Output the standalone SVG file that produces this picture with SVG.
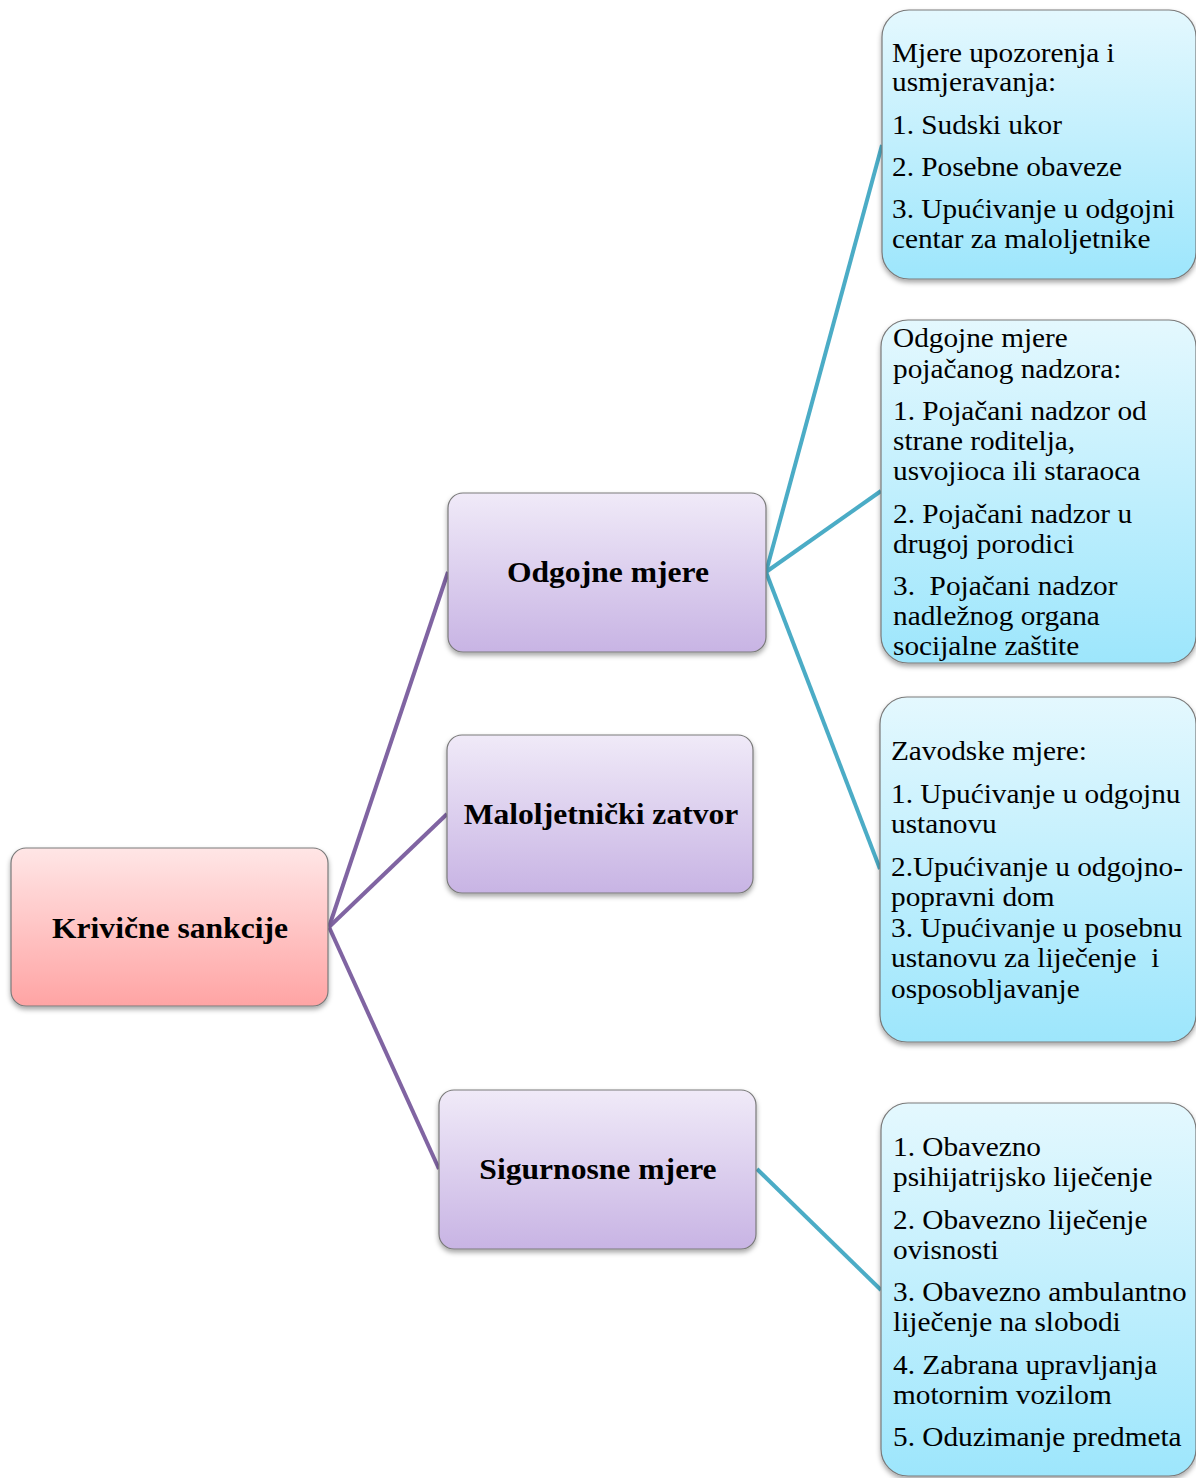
<svg xmlns="http://www.w3.org/2000/svg" width="1196" height="1478" viewBox="0 0 1196 1478">
<defs>
<linearGradient id="gPink" x1="0" y1="0" x2="0" y2="1"><stop offset="0" stop-color="#FFE6E6"/><stop offset="1" stop-color="#FFA4A4"/></linearGradient>
<linearGradient id="gPurple" x1="0" y1="0" x2="0" y2="1"><stop offset="0" stop-color="#F0EAF8"/><stop offset="1" stop-color="#C8B4E4"/></linearGradient>
<linearGradient id="gBlue" x1="0" y1="0" x2="0" y2="1"><stop offset="0" stop-color="#E4F8FE"/><stop offset="1" stop-color="#9DE6FC"/></linearGradient>
<filter id="sh" x="-10%" y="-10%" width="120%" height="125%"><feDropShadow dx="0" dy="3" stdDeviation="2.5" flood-color="#000" flood-opacity="0.35"/></filter>
<style>
.box{stroke:#7a7a7a;stroke-width:1.2;filter:url(#sh)}
.node{font-family:"Liberation Serif","Times New Roman",serif;font-weight:bold;font-size:29px;fill:#000;text-anchor:middle}
.txt{font-family:"Liberation Serif","Times New Roman",serif;font-size:27px;fill:#000}
.pre{white-space:pre}
.cp{fill:none;stroke:#8064A2;stroke-width:4}
.cb{fill:none;stroke:#4BACC6;stroke-width:4}
</style>
</defs>
<rect width="1196" height="1478" fill="#fff"/>
<g id="connectors">
<path class="cp" d="M329 927 L448 572"/>
<path class="cp" d="M329 927 L447 814"/>
<path class="cp" d="M329 927 L439 1169"/>
<path class="cb" d="M766 572 L882 145"/>
<path class="cb" d="M766 572 L881 491"/>
<path class="cb" d="M766 572 L880 869"/>
<path class="cb" d="M757 1169 L881 1290"/>
</g>
<g id="n-root">
<rect class="box" x="11" y="848" width="317" height="158" rx="15" fill="url(#gPink)"/>
<text class="node" x="170" y="938" transform="translate(170,0) scale(1.09,1) translate(-170,0)">Krivične sankcije</text>
</g>
<g id="n-odgojne">
<rect class="box" x="448" y="493" width="318" height="159" rx="15" fill="url(#gPurple)"/>
<text class="node" x="608" y="582" transform="translate(608,0) scale(1.09,1) translate(-608,0)">Odgojne mjere</text>
</g>
<g id="n-zatvor">
<rect class="box" x="447" y="735" width="306" height="158" rx="15" fill="url(#gPurple)"/>
<text class="node" x="601" y="824" transform="translate(601,0) scale(1.09,1) translate(-601,0)">Maloljetnički zatvor</text>
</g>
<g id="n-sigurnosne">
<rect class="box" x="439" y="1090" width="317" height="159" rx="15" fill="url(#gPurple)"/>
<text class="node" x="598" y="1179" transform="translate(598,0) scale(1.09,1) translate(-598,0)">Sigurnosne mjere</text>
</g>
<g id="n-upozorenja">
<rect class="box" x="882" y="10" width="314" height="269" rx="27" fill="url(#gBlue)"/>
<text class="txt" transform="translate(892,0) scale(1.085,1) translate(-892,0)">
<tspan x="892" y="62">Mjere upozorenja i</tspan>
<tspan x="892" y="91">usmjeravanja:</tspan>
<tspan x="892" y="134">1. Sudski ukor</tspan>
<tspan x="892" y="176">2. Posebne obaveze</tspan>
<tspan x="892" y="218">3. Upućivanje u odgojni</tspan>
<tspan x="892" y="248">centar za maloljetnike</tspan>
</text>
</g>
<g id="n-nadzor">
<rect class="box" x="881" y="320" width="315" height="343" rx="27" fill="url(#gBlue)"/>
<text class="txt" transform="translate(893,0) scale(1.085,1) translate(-893,0)">
<tspan x="893" y="347">Odgojne mjere</tspan>
<tspan x="893" y="378">pojačanog nadzora:</tspan>
<tspan x="893" y="420">1. Pojačani nadzor od</tspan>
<tspan x="893" y="450">strane roditelja,</tspan>
<tspan x="893" y="480">usvojioca ili staraoca</tspan>
<tspan x="893" y="523">2. Pojačani nadzor u</tspan>
<tspan x="893" y="553">drugoj porodici</tspan>
<tspan x="893" y="595" class="pre">3.  Pojačani nadzor</tspan>
<tspan x="893" y="625">nadležnog organa</tspan>
<tspan x="893" y="655">socijalne zaštite</tspan>
</text>
</g>
<g id="n-zavodske">
<rect class="box" x="880" y="697" width="316" height="345" rx="27" fill="url(#gBlue)"/>
<text class="txt" transform="translate(891,0) scale(1.085,1) translate(-891,0)">
<tspan x="891" y="760">Zavodske mjere:</tspan>
<tspan x="891" y="803">1. Upućivanje u odgojnu</tspan>
<tspan x="891" y="833">ustanovu</tspan>
<tspan x="891" y="876">2.Upućivanje u odgojno-</tspan>
<tspan x="891" y="906">popravni dom</tspan>
<tspan x="891" y="937">3. Upućivanje u posebnu</tspan>
<tspan x="891" y="967" class="pre">ustanovu za liječenje  i</tspan>
<tspan x="891" y="998">osposobljavanje</tspan>
</text>
</g>
<g id="n-sigurnosne-lista">
<rect class="box" x="881" y="1103" width="315" height="373" rx="27" fill="url(#gBlue)"/>
<text class="txt" transform="translate(893,0) scale(1.085,1) translate(-893,0)">
<tspan x="893" y="1156">1. Obavezno</tspan>
<tspan x="893" y="1186">psihijatrijsko liječenje</tspan>
<tspan x="893" y="1229">2. Obavezno liječenje</tspan>
<tspan x="893" y="1259">ovisnosti</tspan>
<tspan x="893" y="1301">3. Obavezno ambulantno</tspan>
<tspan x="893" y="1331">liječenje na slobodi</tspan>
<tspan x="893" y="1374">4. Zabrana upravljanja</tspan>
<tspan x="893" y="1404">motornim vozilom</tspan>
<tspan x="893" y="1446">5. Oduzimanje predmeta</tspan>
</text>
</g>
</svg>
